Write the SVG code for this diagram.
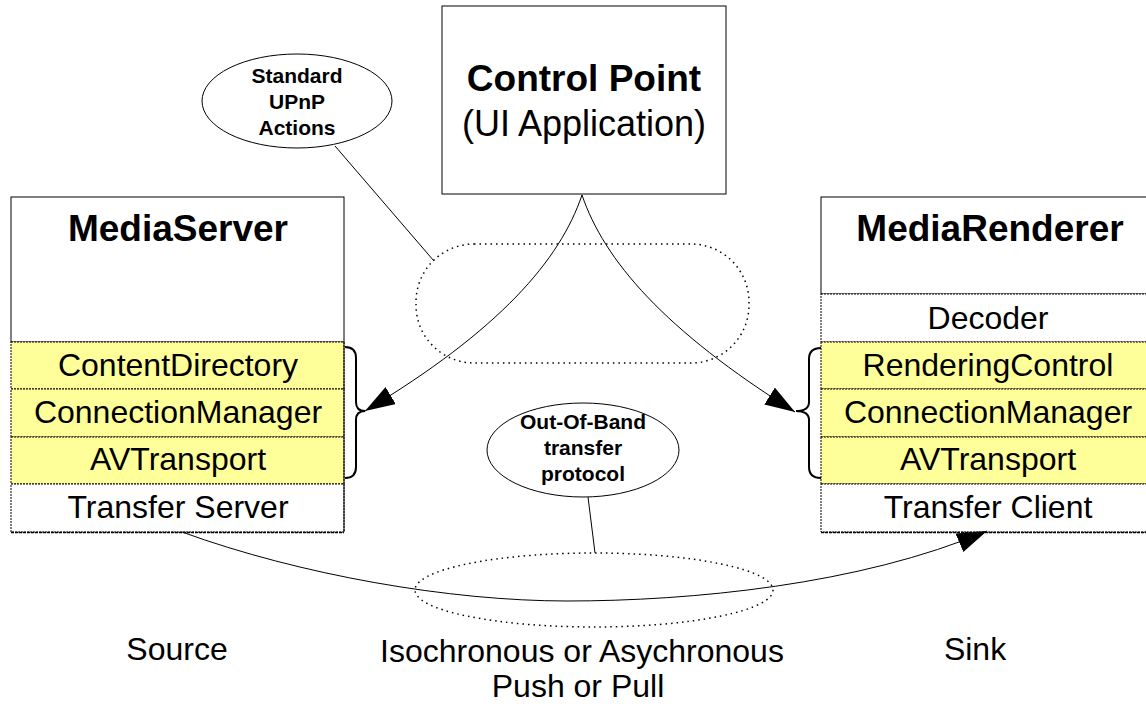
<svg xmlns="http://www.w3.org/2000/svg" width="1146" height="704" viewBox="0 0 1146 704">
<defs>
<marker id="arr" markerUnits="userSpaceOnUse" markerWidth="32" markerHeight="22" refX="30" refY="10" orient="auto">
<path d="M0,0 L30,10 L0,20 z" fill="#000"/>
</marker>
<style>
text{font-family:"Liberation Sans",Arial,sans-serif;fill:#000;text-anchor:middle}
.title{font-size:37px;font-weight:bold}
.row{font-size:32px}
.lbl{font-size:32px}
.small{font-size:21px;font-weight:bold}
.box{fill:#fff;stroke:#000;stroke-width:1}
.yel{fill:#FFFF99;stroke:#000;stroke-width:1;stroke-dasharray:2,1}
.wrow{fill:#fff;stroke:#000;stroke-width:1;stroke-dasharray:2,1}
.dot{fill:none;stroke:#000;stroke-width:1.5;stroke-dasharray:1.5,4}
.line{fill:none;stroke:#000;stroke-width:1}
.brace{fill:none;stroke:#000;stroke-width:2}
</style>
</defs>
<rect width="1146" height="704" fill="#fff"/>

<g id="control-point">
<rect class="box" x="442" y="6" width="284" height="188"/>
<text class="title" x="584" y="91">Control Point</text>
<text x="584" y="136" style="font-size:36px">(UI Application)</text>
</g>

<g id="standard-actions">
<ellipse cx="297" cy="101" rx="95" ry="47" fill="#fff" stroke="#000"/>
<text class="small" x="297" y="83">Standard</text>
<text class="small" x="297" y="109">UPnP</text>
<text class="small" x="297" y="135">Actions</text>
</g>

<g id="media-server">
<rect class="box" x="11" y="197" width="333" height="145"/>
<text class="title" x="178" y="241">MediaServer</text>
<rect class="yel" x="11" y="342" width="333" height="47"/>
<rect class="yel" x="11" y="389" width="333" height="48"/>
<rect class="yel" x="11" y="437" width="333" height="47"/>
<rect class="wrow" x="11" y="484" width="333" height="48"/>
<line class="line" x1="344" y1="342" x2="344" y2="532"/>
<line x1="11" y1="532.5" x2="344" y2="532.5" stroke="#000" stroke-width="1.5" stroke-dasharray="3,1"/>
<text class="row" x="178" y="376">ContentDirectory</text>
<text class="row" x="178" y="423">ConnectionManager</text>
<text class="row" x="178" y="470">AVTransport</text>
<text class="row" x="178" y="518">Transfer Server</text>
<path class="brace" d="M345,347 Q356,347 356,358 L356,402 Q356,411 365,411 Q356,411 356,420 L356,467 Q356,478 345,478"/>
</g>

<g id="media-renderer">
<rect class="box" x="821" y="197" width="335" height="97"/>
<text class="title" x="990" y="241">MediaRenderer</text>
<rect class="wrow" x="821" y="294" width="335" height="48"/>
<rect class="yel" x="821" y="342" width="335" height="47"/>
<rect class="yel" x="821" y="389" width="335" height="48"/>
<rect class="yel" x="821" y="437" width="335" height="47"/>
<rect class="wrow" x="821" y="484" width="335" height="48"/>
<line x1="821" y1="532.5" x2="1146" y2="532.5" stroke="#000" stroke-width="1.5" stroke-dasharray="3,1"/>
<text class="row" x="988" y="329">Decoder</text>
<text class="row" x="988" y="376">RenderingControl</text>
<text class="row" x="988" y="423">ConnectionManager</text>
<text class="row" x="988" y="470">AVTransport</text>
<text class="row" x="988" y="518">Transfer Client</text>
<path class="brace" d="M821,348 Q809,348 809,359 L809,402 Q809,411 796,411 Q809,411 809,420 L809,467 Q809,478 821,478"/>
</g>

<g id="out-of-band">
<ellipse cx="583" cy="450" rx="96" ry="47" fill="#fff" stroke="#000"/>
<text class="small" x="583" y="429">Out-Of-Band</text>
<text class="small" x="583" y="455">transfer</text>
<text class="small" x="583" y="481">protocol</text>
</g>

<g id="labels">
<text class="lbl" x="177" y="660">Source</text>
<text class="lbl" x="975" y="660">Sink</text>
<text class="lbl" x="582" y="662">Isochronous or Asychronous</text>
<text class="lbl" x="578" y="697">Push or Pull</text>
</g>

<g id="connectors">
<rect class="dot" x="416" y="244" width="333" height="119" rx="58" ry="58"/>
<ellipse class="dot" cx="594" cy="590" rx="179" ry="37"/>
<line class="line" x1="335" y1="146" x2="434" y2="261"/>
<line class="line" x1="588" y1="497" x2="595" y2="553"/>
<path class="line" d="M582,195 C560,260 500,330 365,411" marker-end="url(#arr)"/>
<path class="line" d="M582,195 C604,260 664,330 795,412" marker-end="url(#arr)"/>
<path class="line" d="M182,532 C300,575 450,601 567,601 C690,601 860,585 987,531" marker-end="url(#arr)"/>
</g>
</svg>
